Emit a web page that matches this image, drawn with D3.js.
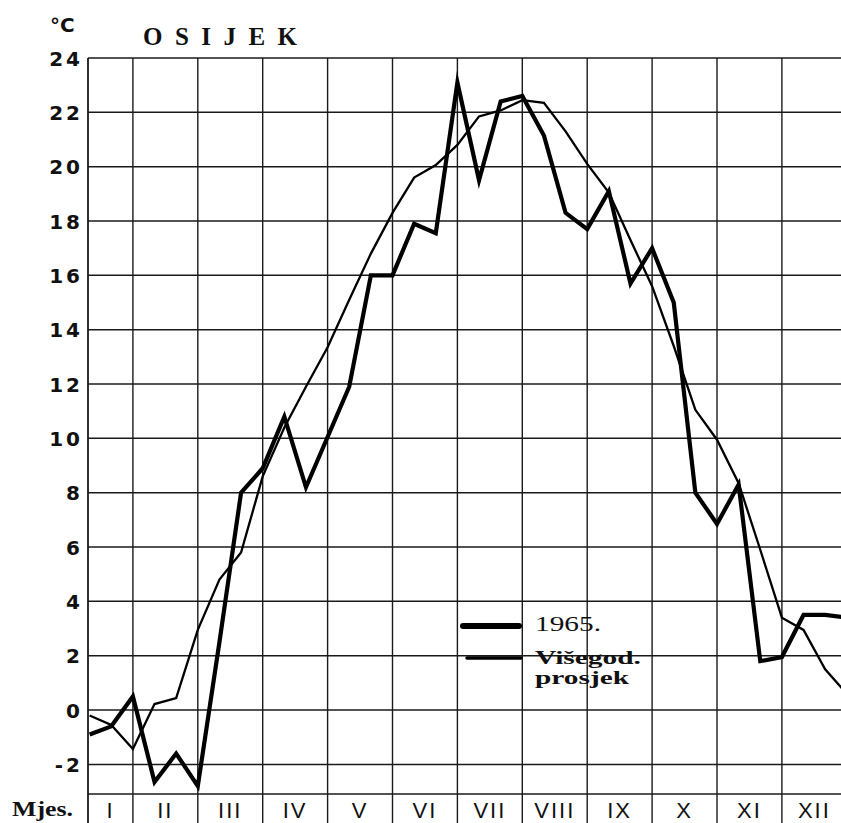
<!DOCTYPE html>
<html>
<head>
<meta charset="utf-8">
<script src="https://cdn.jsdelivr.net/npm/d3@7/dist/d3.min.js"></script>
<style>
  html, body { margin: 0; padding: 0; background: #fff; }
  svg { display: block; }
</style>
</head>
<body>
<svg id="chart" width="841" height="823"></svg>
<script>
// ---- data ----
const monthLabels = ["I", "II", "III", "IV", "V", "VI", "VII", "VIII", "IX", "X", "XI", "XII"];
// ten-day periods (dekade), 3 per month, index 1..36
const decades = d3.range(1, 37);
const temp1965 = [-0.9, -0.6, 0.5, -2.65, -1.6, -2.8, 2.5, 8.0, 8.9,
  10.8, 8.2, 10.05, 11.9, 16.0, 16.0, 17.9, 17.55, 23.1,
  19.5, 22.4, 22.6, 21.15, 18.3, 17.7, 19.1, 15.7, 17.0,
  15.0, 8.0, 6.85, 8.3, 1.8, 1.95, 3.5, 3.5, 3.4];
const tempAvg = [-0.2, -0.55, -1.43, 0.22, 0.44, 2.95, 4.8, 5.8, 8.6,
  10.4, 11.9, 13.35, 15.1, 16.8, 18.3, 19.6, 20.06, 20.8,
  21.85, 22.07, 22.45, 22.35, 21.3, 20.1, 19.05, 17.3, 15.6,
  13.4, 11.05, 9.95, 8.35, 5.9, 3.4, 2.95, 1.5, 0.6];
const yTicks = [-2, 0, 2, 4, 6, 8, 10, 12, 14, 16, 18, 20, 22, 24];
const yMin = -3.09, yMax = 24;
const title = "O S I J E K";
const unitLabel = "°C";
const monthAxisLabel = "Mjes.";
const legendLabels = ["1965.", "Višegod.", "prosjek"];

// ---- layout ----
const svg = d3.select("#chart");
const W = 841, H = 823;
const plotLeft = 88, plotTop = 58, plotBottom = 794;

const x = d3.scaleLinear().domain([0, 12]).range([68, 846.8]);
const y = d3.scaleLinear().domain([yMin, yMax]).range([plotBottom, plotTop]);

const gridColor = "#1a1a1a";
const typeFont = "Liberation Serif, serif";

// clip
svg.append("defs").append("clipPath").attr("id", "clip")
  .append("rect").attr("x", plotLeft).attr("y", 0).attr("width", W - plotLeft).attr("height", plotBottom);

// horizontal grid lines
const grid = svg.append("g");
grid.selectAll("line.h").data(yTicks.concat([yMin])).enter().append("line")
  .attr("x1", plotLeft).attr("x2", W)
  .attr("y1", d => y(d)).attr("y2", d => y(d))
  .attr("stroke", gridColor).attr("stroke-width", 1.5);

// vertical grid lines (month boundaries) + axis
const vlines = d3.range(1, 12).map(m => x(m));
grid.selectAll("line.v").data([plotLeft].concat(vlines)).enter().append("line")
  .attr("x1", d => d).attr("x2", d => d)
  .attr("y1", plotTop).attr("y2", H)
  .attr("stroke", gridColor).attr("stroke-width", d => d === plotLeft ? 1.8 : 1.4);

// y tick labels
svg.append("g").selectAll("text").data(yTicks).enter().append("text")
  .attr("x", 83).attr("y", d => y(d) + 7.5)
  .attr("text-anchor", "end")
  .attr("font-family", "DejaVu Sans, sans-serif")
  .attr("font-weight", "bold")
  .attr("font-size", 20)
  .attr("letter-spacing", 3)
  .attr("fill", "#111")
  .text(d => d < 0 ? "-" + Math.abs(d) : d);

// month labels
svg.append("g").selectAll("text").data(monthLabels).enter().append("text")
  .attr("x", (d, i) => i === 0 ? (plotLeft + x(1)) / 2 : x(i + 0.5))
  .attr("y", 818)
  .attr("text-anchor", "middle")
  .attr("font-family", "Liberation Sans, sans-serif")
  .attr("font-size", 22)
  .attr("letter-spacing", 2)
  .attr("fill", "#111")
  .text(d => d);

svg.append("text").attr("x", 12).attr("y", 816)
  .attr("font-family", typeFont).attr("font-weight", "bold")
  .attr("font-size", 21).attr("textLength", 61).attr("lengthAdjust", "spacingAndGlyphs")
  .attr("fill", "#111").text(monthAxisLabel);

svg.append("text").attr("x", 50).attr("y", 32)
  .attr("font-family", "DejaVu Sans, sans-serif").attr("font-weight", "bold")
  .attr("font-size", 20).attr("fill", "#111").text(unitLabel);

svg.append("text").attr("x", 143).attr("y", 45)
  .attr("font-family", typeFont).attr("font-weight", "bold")
  .attr("font-size", 25).attr("textLength", 154).attr("lengthAdjust", "spacing")
  .attr("fill", "#111").text(title);

// lines
const line = d3.line().x(d => x(d[0] / 3)).y(d => y(d[1]));
const plot = svg.append("g").attr("clip-path", "url(#clip)");
plot.append("path")
  .datum(decades.map((k, i) => [k, tempAvg[i]]))
  .attr("d", line).attr("fill", "none")
  .attr("stroke", "#000").attr("stroke-width", 2.3)
  .attr("stroke-linejoin", "miter");
plot.append("path")
  .datum(decades.map((k, i) => [k, temp1965[i]]))
  .attr("d", line).attr("fill", "none")
  .attr("stroke", "#000").attr("stroke-width", 4.2)
  .attr("stroke-linejoin", "miter").attr("stroke-miterlimit", 6);

// legend
const lg = svg.append("g");
lg.append("line").attr("x1", 463).attr("x2", 519).attr("y1", 626).attr("y2", 626)
  .attr("stroke", "#000").attr("stroke-width", 6).attr("stroke-linecap", "round");
lg.append("line").attr("x1", 467).attr("x2", 521).attr("y1", 658).attr("y2", 658)
  .attr("stroke", "#000").attr("stroke-width", 3.5).attr("stroke-linecap", "round");
lg.append("text").attr("x", 535).attr("y", 631)
  .attr("font-family", typeFont).attr("font-size", 21)
  .attr("textLength", 66).attr("lengthAdjust", "spacingAndGlyphs")
  .attr("fill", "#111").text(legendLabels[0]);
lg.append("text").attr("x", 535).attr("y", 664)
  .attr("font-family", typeFont).attr("font-weight", "bold").attr("font-size", 19)
  .attr("textLength", 106).attr("lengthAdjust", "spacingAndGlyphs")
  .attr("fill", "#111").text(legendLabels[1]);
lg.append("text").attr("x", 535).attr("y", 684)
  .attr("font-family", typeFont).attr("font-weight", "bold").attr("font-size", 19)
  .attr("textLength", 94).attr("lengthAdjust", "spacingAndGlyphs")
  .attr("fill", "#111").text(legendLabels[2]);
</script>
</body>
</html>
